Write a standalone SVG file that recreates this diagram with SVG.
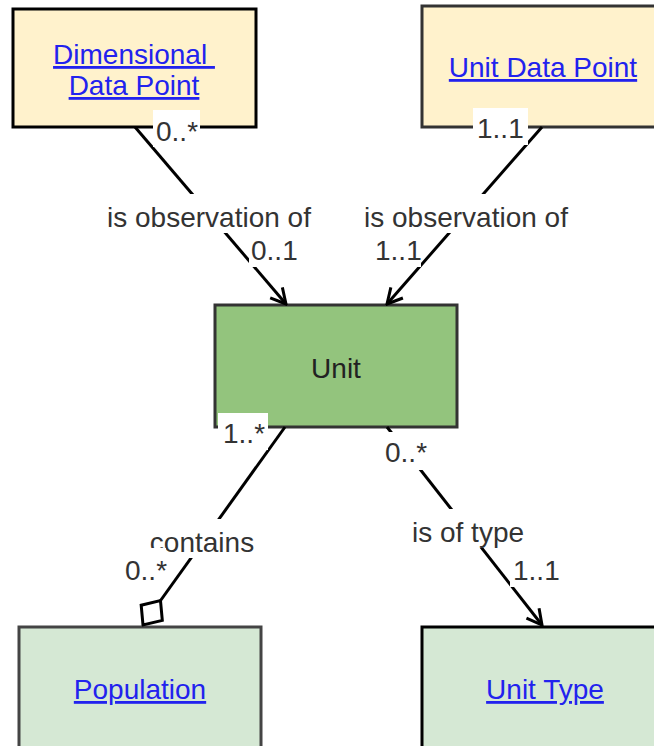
<svg xmlns="http://www.w3.org/2000/svg" width="654" height="746" viewBox="0 0 654 746">
<style>
.box{stroke-width:3}
.link{font-family:"Liberation Sans",Arial,sans-serif;font-size:28px;fill:#2222ee;text-decoration:underline;text-anchor:middle}
.plain{font-family:"Liberation Sans",Arial,sans-serif;font-size:28px;fill:#222;text-anchor:middle}
.lbl{font-family:"Liberation Sans",Arial,sans-serif;font-size:28px;fill:#333}
.mid{text-anchor:middle}
.bg{fill:#fff}
.edge{stroke:#000;stroke-width:3;fill:none}
</style>
<defs>
<marker id="arrow" viewBox="0 0 20 20" refX="18" refY="10" markerWidth="20" markerHeight="20" markerUnits="userSpaceOnUse" orient="auto">
<path d="M3,2 L18,10 L3,18" fill="none" stroke="#000" stroke-width="3"/>
</marker>
<marker id="diamond" viewBox="-2 -2 34 30" refX="30" refY="13" markerWidth="34" markerHeight="30" markerUnits="userSpaceOnUse" orient="auto">
<path d="M0,13 L15,0 L30,13 L15,26 Z" fill="#fff" stroke="#000" stroke-width="3"/>
</marker>
</defs>
<rect width="654" height="746" fill="#fff"/>

<g id="dimensional-data-point">
<rect class="box" x="13" y="9" width="243" height="118" fill="#fff2cc" stroke="#000"/>
<text class="link" x="134" y="64" xml:space="preserve">Dimensional </text>
<text class="link" x="134" y="95">Data Point</text>
</g>
<g id="unit-data-point">
<rect class="box" x="422" y="6" width="245" height="121" fill="#fff2cc" stroke="#333"/>
<text class="link" x="543" y="77">Unit Data Point</text>
</g>
<g id="unit">
<rect class="box" x="215" y="305" width="242" height="122" fill="#93c47d" stroke="#333"/>
<text class="plain" x="336" y="378">Unit</text>
</g>
<g id="population">
<rect class="box" x="19" y="627" width="242" height="125" fill="#d5e8d4" stroke="#444"/>
<text class="link" x="140" y="699">Population</text>
</g>
<g id="unit-type">
<rect class="box" x="422" y="627" width="245" height="125" fill="#d5e8d4" stroke="#000"/>
<text class="link" x="545" y="699">Unit Type</text>
</g>

<g id="connectors">
<line class="edge" x1="135" y1="127" x2="286" y2="304" marker-end="url(#arrow)"/>
<line class="edge" x1="542" y1="127" x2="387" y2="304" marker-end="url(#arrow)"/>
<line class="edge" x1="285" y1="427" x2="143" y2="625" marker-end="url(#diamond)"/>
<line class="edge" x1="387" y1="427" x2="542" y2="625" marker-end="url(#arrow)"/>

<rect class="bg" x="153" y="110" width="47" height="37"/>
<text class="lbl" x="156" y="141">0..*</text>
<rect class="bg" x="103" y="194" width="212" height="39"/>
<text class="lbl mid" x="209" y="227">is observation of</text>
<rect class="bg" x="249" y="230" width="51" height="37"/>
<text class="lbl" x="251" y="260">0..1</text>

<rect class="bg" x="473" y="108" width="55" height="37"/>
<text class="lbl" x="477" y="138">1..1</text>
<rect class="bg" x="360" y="194" width="212" height="39"/>
<text class="lbl mid" x="466" y="227">is observation of</text>
<rect class="bg" x="372" y="230" width="49" height="37"/>
<text class="lbl" x="375" y="260">1..1</text>

<rect class="bg" x="218" y="413" width="50" height="37"/>
<text class="lbl" x="223" y="443">1..*</text>
<rect class="bg" x="150" y="519" width="106" height="39"/>
<text class="lbl mid" x="202" y="552">contains</text>
<rect class="bg" x="122" y="548" width="44" height="38"/>
<text class="lbl" x="125" y="580">0..*</text>

<rect class="bg" x="382" y="432" width="48" height="38"/>
<text class="lbl" x="385" y="462">0..*</text>
<rect class="bg" x="410" y="509" width="116" height="39"/>
<text class="lbl mid" x="468" y="542">is of type</text>
<rect class="bg" x="510" y="550" width="50" height="37"/>
<text class="lbl" x="513" y="580">1..1</text>
</g>
</svg>
